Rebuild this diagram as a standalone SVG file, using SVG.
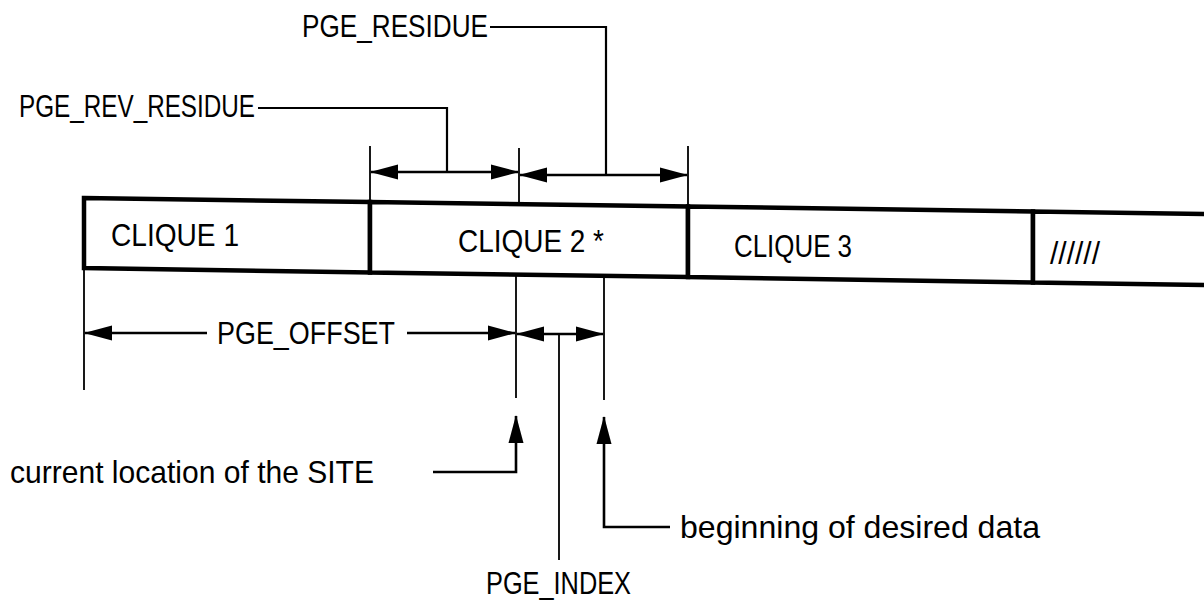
<svg xmlns="http://www.w3.org/2000/svg" width="1204" height="605" viewBox="0 0 1204 605">
<defs>
<marker id="ah" markerUnits="userSpaceOnUse" markerWidth="28" markerHeight="16" refX="27" refY="8" orient="auto-start-reverse" viewBox="0 0 28 16"><path d="M0,0.5 L28,8 L0,15.5 Z" fill="#000"/></marker>
<style>
text{font-family:"Liberation Sans",Arial,sans-serif;font-size:32px;fill:#000}
.cell{stroke:#000;stroke-width:4.5;fill:#fff;stroke-linejoin:miter}
.thin{stroke:#000;stroke-width:1.8;fill:none}
.lead{stroke:#000;stroke-width:2.2;fill:none}
.dim{stroke:#000;stroke-width:2.6;fill:none}
</style>
</defs>
<rect width="1204" height="605" fill="#fff"/>
<g id="strip">
<g id="clique1"><polygon class="cell" points="84,198 370,202 370,272.5 84,268"/><text x="111" y="246" textLength="128" lengthAdjust="spacingAndGlyphs">CLIQUE 1</text></g>
<g id="clique2"><polygon class="cell" points="370,202 688,206.5 688,277 370,272.5"/><text x="458" y="252" textLength="146" lengthAdjust="spacingAndGlyphs">CLIQUE 2 *</text></g>
<g id="clique3"><polygon class="cell" points="688,206.5 1033,211.5 1033,282.5 688,277"/><text x="734" y="257" textLength="118" lengthAdjust="spacingAndGlyphs">CLIQUE 3</text></g>
<g id="clique4"><polyline class="cell" fill="none" points="1208,214 1033,211.5 1033,282.5 1208,285"/><text x="1050" y="264" textLength="50" lengthAdjust="spacingAndGlyphs">//////</text></g>
</g>
<g id="labels">
<g id="pge_residue"><text x="302" y="37" textLength="186" lengthAdjust="spacingAndGlyphs">PGE_RESIDUE</text></g>
<g id="pge_rev_residue"><text x="19" y="117" textLength="236" lengthAdjust="spacingAndGlyphs">PGE_REV_RESIDUE</text></g>
<g id="pge_offset"><text x="217" y="344" textLength="178" lengthAdjust="spacingAndGlyphs">PGE_OFFSET</text></g>
<g id="pge_index"><text x="486" y="594" textLength="145" lengthAdjust="spacingAndGlyphs">PGE_INDEX</text></g>
<g id="current_location"><text x="10" y="483" textLength="364" lengthAdjust="spacingAndGlyphs">current location of the SITE</text></g>
<g id="beginning_data"><text x="680" y="538" textLength="360" lengthAdjust="spacingAndGlyphs">beginning of desired data</text></g>
</g>
<g id="connectors">
<path class="thin" d="M370,146 V202 M519,148 V204 M688,146 V206.5"/>
<path class="thin" d="M84,268 V390 M516,274 V398 M604,276 V400 M559,334 V560"/>
<path class="dim" d="M371,172 H518" marker-start="url(#ah)" marker-end="url(#ah)"/>
<path class="dim" d="M520,175 H687" marker-start="url(#ah)" marker-end="url(#ah)"/>
<path class="dim" d="M85,333 H207" marker-start="url(#ah)"/>
<path class="dim" d="M407,333 H515" marker-end="url(#ah)"/>
<path class="dim" d="M517,334 H603" marker-start="url(#ah)" marker-end="url(#ah)"/>
<path class="lead" d="M490,27 H606 V175"/>
<path class="lead" d="M258,108 H447 V172"/>
<path class="dim" d="M433,472 H516 V416" marker-end="url(#ah)"/>
<path class="dim" d="M670,527 H604 V417" marker-end="url(#ah)"/>
</g>
</svg>
